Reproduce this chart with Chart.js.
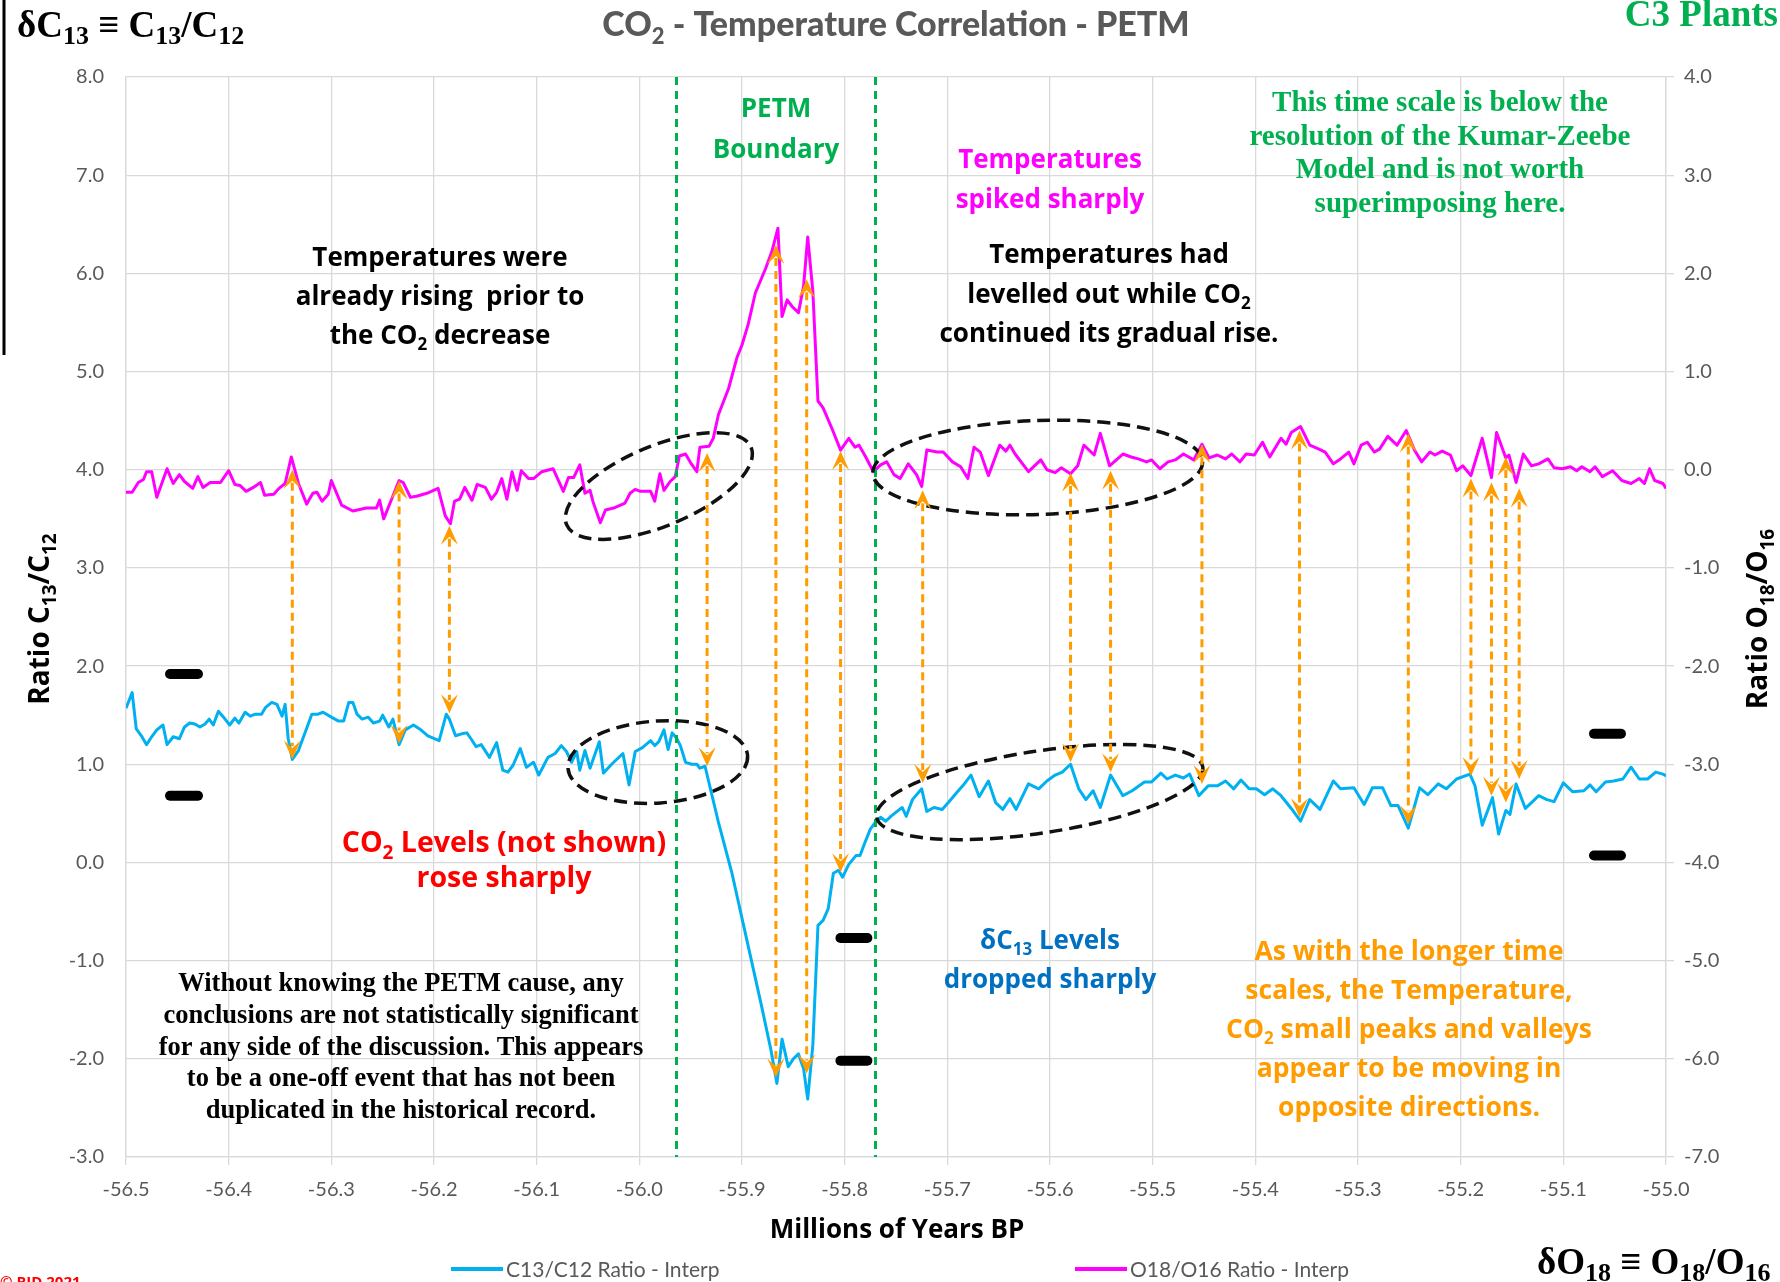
<!DOCTYPE html>
<html>
<head>
<meta charset="utf-8">
<script src="https://cdn.jsdelivr.net/npm/chart.js@4.4.1/dist/chart.umd.min.js"></script>
<style>
  html, body { margin: 0; padding: 0; background: #ffffff; overflow: hidden; }
  canvas { display: block; }
</style>
</head>
<body>
<canvas id="petm" width="1780" height="1282"></canvas>
<script>
// ---- Axis ranges (millions of years BP, C13/C12 ratio, O18/O16 ratio) ----
const xRange = [-56.5, -55.0];
const c13Range = [-3, 8];
const o18Range = [-7, 4];

// ---- O18/O16 ratio (right axis) ----
const o18Years = [
  -56.500,-56.494,-56.488,-56.483,-56.480,-56.475,-56.470,-56.460,-56.454,-56.448,
  -56.443,-56.435,-56.430,-56.425,-56.418,-56.408,-56.400,-56.394,-56.389,-56.383,
  -56.376,-56.369,-56.365,-56.356,-56.351,-56.345,-56.339,-56.332,-56.324,-56.318,
  -56.314,-56.309,-56.303,-56.300,-56.290,-56.279,-56.266,-56.256,-56.253,-56.249,
  -56.234,-56.230,-56.223,-56.217,-56.207,-56.196,-56.189,-56.184,-56.180,-56.175,
  -56.170,-56.163,-56.158,-56.150,-56.144,-56.139,-56.134,-56.129,-56.124,-56.119,
  -56.115,-56.108,-56.103,-56.095,-56.084,-56.074,-56.069,-56.064,-56.058,-56.053,
  -56.048,-56.045,-56.038,-56.033,-56.025,-56.014,-56.009,-56.004,
  -55.999,-55.989,-55.985,-55.980,-55.976,-55.970,-55.965,-55.961,-55.955,-55.950,
  -55.944,-55.941,-55.932,-55.928,-55.923,-55.913,-55.905,-55.900,-55.894,-55.887,
  -55.877,-55.871,-55.865,-55.861,-55.856,-55.851,-55.845,-55.840,-55.836,-55.831,
  -55.826,-55.821,-55.812,-55.804,-55.796,-55.790,-55.786,-55.780,-55.772,-55.765,
  -55.759,-55.752,-55.746,-55.738,-55.730,
  -55.725,-55.720,-55.710,-55.704,-55.695,-55.687,-55.680,-55.674,-55.668,-55.660,
  -55.649,-55.643,-55.639,-55.634,-55.621,-55.609,-55.603,-55.595,-55.589,-55.580,
  -55.573,-55.567,-55.557,-55.551,-55.542,-55.529,-55.521,-55.514,-55.506,-55.501,
  -55.493,-55.485,-55.478,-55.470,-55.460,-55.452,-55.445,-55.437,-55.429,-55.423,
  -55.415,-55.409,-55.401,-55.393,-55.386,-55.375,-55.370,-55.365,-55.356,-55.347,
  -55.338,-55.332,-55.324,-55.317,-55.309,-55.304,-55.297,-55.291,-55.284,-55.279,
  -55.271,-55.262,-55.253,-55.245,-55.238,-55.230,-55.225,-55.218,-55.210,-55.204,
  -55.198,-55.190,-55.179,-55.170,-55.165,-55.156,-55.153,-55.146,-55.139,-55.131,
  -55.124,-55.115,-55.109,-55.101,-55.093,-55.087,-55.082,-55.074,-55.069,-55.062,
  -55.052,-55.043,-55.034,-55.026,-55.021,-55.016,-55.011,-55.003,-55.000
];
const o18Ratio = [
  -0.23,-0.23,-0.13,-0.10,-0.02,-0.02,-0.28,0.01,-0.14,-0.05,
  -0.12,-0.19,-0.07,-0.18,-0.13,-0.13,-0.01,-0.15,-0.16,-0.22,
  -0.18,-0.13,-0.26,-0.25,-0.19,-0.14,0.13,-0.14,-0.35,-0.24,
  -0.23,-0.32,-0.25,-0.11,-0.36,-0.42,-0.39,-0.39,-0.31,-0.50,
  -0.11,-0.13,-0.28,-0.27,-0.24,-0.19,-0.47,-0.55,-0.32,-0.30,
  -0.18,-0.31,-0.15,-0.18,-0.30,-0.23,-0.09,-0.30,-0.02,-0.21,
  -0.01,-0.09,-0.09,-0.02,0.01,-0.22,-0.08,-0.08,0.05,-0.24,
  -0.21,-0.33,-0.54,-0.41,-0.39,-0.34,-0.24,-0.20,
  -0.22,-0.22,-0.32,-0.04,-0.21,-0.12,-0.07,0.14,0.16,0.07,
  -0.02,0.23,0.24,0.32,0.56,0.83,1.14,1.27,1.48,1.80,
  2.05,2.22,2.46,1.56,1.73,1.66,1.60,1.87,2.37,1.82,
  0.70,0.63,0.41,0.20,0.32,0.23,0.25,0.14,-0.02,0.05,
  0.08,-0.05,-0.09,0.06,-0.05,
  -0.17,0.20,0.18,0.18,0.08,0.03,-0.09,0.23,0.18,-0.06,
  0.25,0.19,0.25,0.16,-0.02,0.10,0.00,-0.03,0.02,-0.04,
  0.04,0.25,0.15,0.37,0.04,0.16,0.13,0.11,0.08,0.10,
  0.01,0.08,0.10,0.16,0.10,0.26,0.12,0.15,0.11,0.16,
  0.08,0.16,0.15,0.28,0.13,0.32,0.26,0.38,0.44,0.25,
  0.21,0.18,0.06,0.11,0.18,0.06,0.25,0.28,0.18,0.21,
  0.34,0.25,0.40,0.20,0.08,0.18,0.15,0.19,0.15,-0.01,
  0.04,-0.06,0.32,-0.08,0.38,0.12,0.15,-0.13,0.16,0.04,
  0.06,0.11,0.02,0.01,0.03,-0.01,0.03,-0.02,0.03,-0.07,
  -0.01,-0.11,-0.14,-0.09,-0.14,0.01,-0.11,-0.14,-0.19
];

// ---- C13/C12 ratio (left axis) ----
const c13Years = [
  -56.500,-56.494,-56.490,-56.485,-56.480,-56.475,-56.470,-56.464,-56.460,-56.454,
  -56.448,-56.443,-56.438,-56.433,-56.428,-56.423,-56.419,-56.415,-56.410,-56.405,
  -56.399,-56.394,-56.390,-56.384,-56.379,-56.374,-56.368,-56.364,-56.358,-56.353,
  -56.348,-56.345,-56.342,-56.338,-56.332,-56.326,-56.319,-56.313,-56.308,-56.300,
  -56.293,-56.288,-56.283,-56.279,-56.275,-56.270,-56.264,-56.259,-56.253,-56.250,
  -56.244,-56.240,-56.234,-56.228,-56.220,-56.214,-56.206,-56.195,-56.188,-56.185,
  -56.179,-56.173,-56.168,-56.164,-56.159,-56.154,-56.146,-56.139,-56.133,-56.128,
  -56.123,-56.116,-56.110,-56.103,-56.098,-56.094,-56.089,-56.082,-56.076,-56.071,
  -56.066,-56.061,-56.058,-56.053,-56.048,-56.039,-56.035,-56.027,-56.016,-56.010,
  -56.004,
  -55.997,-55.989,-55.985,-55.981,-55.976,-55.972,-55.968,-55.964,-55.960,-55.955,
  -55.949,-55.944,-55.941,-55.936,-55.923,-55.910,-55.894,-55.881,-55.872,-55.866,
  -55.861,-55.855,-55.850,-55.845,-55.840,-55.836,-55.831,-55.826,-55.821,-55.816,
  -55.811,-55.806,-55.802,-55.796,-55.789,-55.785,-55.780,-55.775,-55.770,-55.765,
  -55.760,-55.755,-55.749,-55.744,-55.740,-55.734,
  -55.725,-55.720,-55.713,-55.705,-55.699,-55.691,-55.685,-55.677,-55.669,-55.660,
  -55.653,-55.646,-55.639,-55.633,-55.621,-55.611,-55.603,-55.595,-55.588,-55.580,
  -55.572,-55.565,-55.558,-55.551,-55.541,-55.529,-55.520,-55.508,-55.501,-55.492,
  -55.486,-55.478,-55.470,-55.464,-55.455,-55.446,-55.437,-55.429,-55.421,-55.414,
  -55.406,-55.399,-55.391,-55.383,-55.375,-55.365,-55.356,-55.347,-55.337,-55.324,
  -55.317,-55.304,-55.294,-55.286,-55.276,-55.268,-55.261,-55.251,-55.240,-55.232,
  -55.222,-55.214,-55.204,-55.191,-55.186,-55.179,-55.169,-55.163,-55.156,-55.152,
  -55.146,-55.137,-55.131,-55.124,-55.116,-55.109,-55.100,-55.091,-55.080,-55.074,
  -55.068,-55.059,-55.051,-55.042,-55.034,-55.026,-55.018,-55.010,-55.003,-55.000
];
const c13Ratio = [
  1.57,1.73,1.36,1.29,1.20,1.28,1.35,1.40,1.20,1.28,
  1.26,1.38,1.42,1.41,1.38,1.41,1.46,1.40,1.54,1.48,
  1.40,1.47,1.42,1.53,1.49,1.51,1.51,1.58,1.63,1.61,
  1.49,1.61,1.26,1.05,1.14,1.31,1.51,1.51,1.53,1.48,
  1.44,1.44,1.63,1.63,1.51,1.46,1.48,1.42,1.44,1.50,
  1.38,1.46,1.20,1.35,1.40,1.36,1.29,1.24,1.51,1.46,
  1.29,1.31,1.32,1.26,1.18,1.20,1.07,1.22,0.94,0.92,
  0.99,1.16,0.97,1.02,0.89,0.97,1.07,1.11,1.19,1.13,
  1.02,1.13,0.94,1.14,0.96,1.23,0.91,1.00,1.11,0.79,
  1.13,
  1.17,1.24,1.19,1.23,1.35,1.15,1.32,1.27,1.19,1.02,
  1.00,1.00,0.96,0.98,0.41,-0.10,-0.85,-1.46,-1.90,-2.25,
  -1.80,-2.08,-2.00,-1.95,-2.10,-2.41,-1.86,-0.64,-0.59,-0.47,
  -0.11,-0.08,-0.15,-0.02,0.07,0.07,0.21,0.34,0.41,0.46,
  0.42,0.47,0.52,0.56,0.47,0.64,
  0.75,0.52,0.56,0.54,0.61,0.71,0.78,0.89,0.67,0.83,
  0.61,0.54,0.65,0.54,0.80,0.75,0.83,0.89,0.92,1.00,
  0.75,0.64,0.73,0.56,0.89,0.68,0.73,0.82,0.82,0.91,
  0.85,0.89,0.86,0.90,0.68,0.78,0.78,0.83,0.75,0.84,
  0.75,0.75,0.69,0.75,0.68,0.55,0.42,0.64,0.54,0.83,
  0.75,0.76,0.59,0.76,0.76,0.58,0.58,0.35,0.76,0.69,
  0.80,0.75,0.85,0.90,0.78,0.38,0.66,0.29,0.53,0.49,
  0.80,0.55,0.61,0.68,0.64,0.62,0.81,0.72,0.73,0.79,
  0.72,0.82,0.83,0.85,0.97,0.85,0.85,0.92,0.90,0.88
];

// ---- Paired peak/valley arrows: year, upper tip and lower tip (left-axis units) ----
const arrowYears  = [-56.338,-56.234,-56.185,-55.934,-55.867,-55.837,-55.804,-55.724,-55.580,-55.541,-55.452,-55.357,-55.251,-55.190,-55.170,-55.156,-55.143];
const arrowTop    = [4.00, 3.89, 3.43, 4.17, 6.29, 5.94, 4.19, 3.79, 3.97, 3.99, 4.26, 4.40, 4.37, 3.91, 3.87, 4.13, 3.81];
const arrowBottom = [1.05, 1.21, 1.52, 0.98, -2.19, -2.15, -0.10, 0.81, 1.02, 0.92, 0.80, 0.46, 0.39, 0.88, 0.68, 0.61, 0.85];

// ---- PETM boundary years ----
const boundaryYears = [-55.964, -55.770];

// ---- Range bars: start year, end year, level (left-axis units) ----
const barStart = [-56.462, -56.462, -55.809, -55.809, -55.075, -55.075];
const barEnd   = [-56.425, -56.425, -55.773, -55.773, -55.039, -55.039];
const barLevel = [1.92, 0.68, -0.77, -2.02, 1.31, 0.07];

// ---- Highlight ellipses (centre in data units, radii in px, tilt in degrees) ----
const ellipses = [
  { x: -55.981, y: 3.834, rx: 100, ry: 40, tilt: -22.7 },
  { x: -55.982, y: 1.023, rx: 90,  ry: 41, tilt: -4 },
  { x: -55.612, y: 4.023, rx: 165, ry: 47, tilt: -2 },
  { x: -55.610, y: 0.717, rx: 165, ry: 41, tilt: -8.7 }
];

// ---- Colours ----
const C13_COLOR = '#00B0F0';
const O18_COLOR = '#FF00FF';
const ORANGE = '#FF9C00';
const GREEN = '#00B050';
const GRID = '#D9D9D9';
const TICK = '#595959';

const SANS = "'Open Sans', 'DejaVu Sans', sans-serif";
const SERIF = "'Liberation Serif', 'DejaVu Serif', serif";
const CAL = "Lato, 'Open Sans', sans-serif";

// Draw a line of text where _{..} marks a subscript run.
function richText(ctx, str, x, y, opt) {
  const size = opt.size, fam = opt.family, weight = opt.weight || 'bold';
  const subScale = opt.subScale || 0.66;
  const parts = [];
  const re = /_\{([^}]*)\}/g;
  let last = 0, m;
  while ((m = re.exec(str))) {
    if (m.index > last) parts.push({ t: str.slice(last, m.index), sub: false });
    parts.push({ t: m[1], sub: true });
    last = re.lastIndex;
  }
  if (last < str.length) parts.push({ t: str.slice(last), sub: false });
  const mainFont = `${weight} ${size}px ${fam}`;
  const subFont = `${weight} ${Math.round(size * subScale)}px ${fam}`;
  let w = 0;
  parts.forEach(p => { ctx.font = p.sub ? subFont : mainFont; p.w = ctx.measureText(p.t).width; w += p.w; });
  let cx = opt.align === 'left' ? x : opt.align === 'right' ? x - w : x - w / 2;
  ctx.fillStyle = opt.color;
  ctx.textBaseline = 'alphabetic';
  ctx.textAlign = 'left';
  parts.forEach(p => {
    ctx.font = p.sub ? subFont : mainFont;
    ctx.fillText(p.t, cx, y + (p.sub ? size * (opt.subDrop || 0.24) : 0));
    cx += p.w;
  });
}

// Annotation text blocks (centre x, first baseline, line step)
const textBlocks = [
  { lines: ['Temperatures were', 'already rising  prior to', 'the CO_{2} decrease'], x: 440, y: 266, step: 39, size: 26, family: SANS, color: '#000000' },
  { lines: ['PETM', 'Boundary'], x: 776, y: 117, step: 41, size: 26, family: SANS, color: GREEN },
  { lines: ['Temperatures', 'spiked sharply'], x: 1050, y: 168, step: 40, size: 26, family: SANS, color: O18_COLOR },
  { lines: ['Temperatures had', 'levelled out while CO_{2}', 'continued its gradual rise.'], x: 1109, y: 263, step: 39.5, size: 26, family: SANS, color: '#000000' },
  { lines: ['This time scale is below the', 'resolution of the Kumar-Zeebe', 'Model and is not worth', 'superimposing here.'], x: 1440, y: 111, step: 33.7, size: 29, family: SERIF, color: GREEN },
  { lines: ['CO_{2} Levels (not shown)', 'rose sharply'], x: 504, y: 852, step: 35, size: 28.5, family: SANS, color: '#FF0000' },
  { lines: ['\u03b4C_{13} Levels', 'dropped sharply'], x: 1050, y: 949, step: 39, size: 26, family: SANS, color: '#0070C0' },
  { lines: ['As with the longer time', 'scales, the Temperature,', 'CO_{2} small peaks and valleys', 'appear to be moving in', 'opposite directions.'], x: 1409, y: 960, step: 39, size: 26.5, family: SANS, color: ORANGE },
  { lines: ['Without knowing the PETM cause, any', 'conclusions are not statistically significant', 'for any side of the discussion. This appears', 'to be a one-off event that has not been', 'duplicated in the historical record.'], x: 401, y: 991, step: 31.8, size: 26.5, family: SERIF, color: '#000000' }
];

function arrowHead(ctx, x, y, dir) {
  // dir = -1 points up (tip on top), +1 points down
  const L = 19, W = 8.5, N = 11;
  ctx.beginPath();
  ctx.moveTo(x, y);
  ctx.lineTo(x - W, y - dir * L);
  ctx.lineTo(x, y - dir * N);
  ctx.lineTo(x + W, y - dir * L);
  ctx.closePath();
  ctx.fill();
}

const annotationPlugin = {
  id: 'petmAnnotations',
  afterDatasetsDraw(chart) {
    const ctx = chart.ctx;
    const xs = chart.scales.x, ys = chart.scales.y;
    const area = chart.chartArea;
    ctx.save();

    // PETM boundary lines
    ctx.strokeStyle = GREEN;
    ctx.lineWidth = 3;
    ctx.setLineDash([8, 6]);
    boundaryYears.forEach(yr => {
      const px = Math.round(xs.getPixelForValue(yr)) + 0.5;
      ctx.beginPath();
      ctx.moveTo(px, area.top);
      ctx.lineTo(px, area.bottom);
      ctx.stroke();
    });

    // highlight ellipses
    ctx.strokeStyle = '#111111';
    ctx.lineWidth = 3.5;
    ctx.setLineDash([13, 7]);
    ellipses.forEach(e => {
      ctx.beginPath();
      ctx.ellipse(xs.getPixelForValue(e.x), ys.getPixelForValue(e.y), e.rx, e.ry, e.tilt * Math.PI / 180, 0, Math.PI * 2);
      ctx.stroke();
    });

    // peak / valley arrows
    ctx.strokeStyle = ORANGE;
    ctx.fillStyle = ORANGE;
    ctx.lineWidth = 3;
    arrowYears.forEach((yr, i) => {
      const px = xs.getPixelForValue(yr);
      const top = ys.getPixelForValue(arrowTop[i]);
      const bot = ys.getPixelForValue(arrowBottom[i]);
      ctx.setLineDash([8, 5]);
      ctx.beginPath();
      ctx.moveTo(px, top + 13);
      ctx.lineTo(px, bot - 13);
      ctx.stroke();
      ctx.setLineDash([]);
      arrowHead(ctx, px, top, -1);
      arrowHead(ctx, px, bot, 1);
    });

    // range bars
    ctx.setLineDash([]);
    ctx.strokeStyle = '#000000';
    ctx.lineWidth = 10;
    ctx.lineCap = 'round';
    barLevel.forEach((lv, i) => {
      const py = ys.getPixelForValue(lv);
      ctx.beginPath();
      ctx.moveTo(xs.getPixelForValue(barStart[i]) + 5, py);
      ctx.lineTo(xs.getPixelForValue(barEnd[i]) - 5, py);
      ctx.stroke();
    });
    ctx.restore();
  },
  afterDraw(chart) {
    const ctx = chart.ctx;
    ctx.save();

    // title
    richText(ctx, 'CO_{2} - Temperature Correlation - PETM', 896, 36, { size: 34, family: CAL, color: TICK, weight: '900' });

    // corner notes
    richText(ctx, '\u03b4C_{13} \u2261 C_{13}/C_{12}', 17, 37, { size: 37, family: SERIF, color: '#000000', align: 'left', subScale: 0.7, subDrop: 0.2 });
    richText(ctx, 'C3 Plants', 1778, 26, { size: 37, family: SERIF, color: GREEN, align: 'right' });
    richText(ctx, '\u03b4O_{18} \u2261 O_{18}/O_{16}', 1537, 1274, { size: 37, family: SERIF, color: '#000000', align: 'left', subScale: 0.7, subDrop: 0.2 });
    ctx.font = 'bold 15px ' + SANS;
    ctx.fillStyle = '#FF0000';
    ctx.textBaseline = 'top';
    ctx.fillText('\u00a9 RJD 2021', 0, 1275);

    // frame line on the left edge
    ctx.strokeStyle = '#000000';
    ctx.lineWidth = 3;
    ctx.beginPath();
    ctx.moveTo(4, 0);
    ctx.lineTo(4, 355);
    ctx.stroke();

    // axis titles
    richText(ctx, 'Millions of Years BP', 897, 1238, { size: 26, family: SANS, color: '#000000' });
    ctx.save();
    ctx.translate(49, 619);
    ctx.rotate(-Math.PI / 2);
    richText(ctx, 'Ratio C_{13}/C_{12}', 0, 0, { size: 28, family: SANS, color: '#000000', subScale: 0.68 });
    ctx.restore();
    ctx.save();
    ctx.translate(1767, 619);
    ctx.rotate(-Math.PI / 2);
    richText(ctx, 'Ratio O_{18}/O_{16}', 0, 0, { size: 28, family: SANS, color: '#000000', subScale: 0.68 });
    ctx.restore();

    // legend
    const legendPos = [[451, 1269], [1075, 1269]];
    chart.data.datasets.forEach((ds, i) => {
      const [lx, ly] = legendPos[i];
      ctx.strokeStyle = ds.borderColor;
      ctx.lineWidth = 4;
      ctx.beginPath();
      ctx.moveTo(lx, ly);
      ctx.lineTo(lx + 52, ly);
      ctx.stroke();
      ctx.font = '21px ' + CAL;
      ctx.fillStyle = TICK;
      ctx.textBaseline = 'middle';
      ctx.textAlign = 'left';
      ctx.fillText(ds.label, lx + 55, ly + 1);
    });

    // annotation blocks
    textBlocks.forEach(b => {
      b.lines.forEach((ln, k) => {
        richText(ctx, ln, b.x, b.y + k * b.step, { size: b.size, family: b.family, color: b.color });
      });
    });
    ctx.restore();
  }
};

const tickFont = { family: CAL, size: 20 };

new Chart(document.getElementById('petm'), {
  type: 'line',
  data: {
    datasets: [
      {
        label: 'C13/C12 Ratio - Interp',
        data: c13Years.map((x, i) => ({ x, y: c13Ratio[i] })),
        borderColor: C13_COLOR,
        borderWidth: 3,
        yAxisID: 'y'
      },
      {
        label: 'O18/O16 Ratio - Interp',
        data: o18Years.map((x, i) => ({ x, y: o18Ratio[i] })),
        borderColor: O18_COLOR,
        borderWidth: 3,
        yAxisID: 'y1'
      }
    ]
  },
  options: {
    responsive: false,
    animation: false,
    devicePixelRatio: 1,
    elements: { point: { radius: 0 }, line: { tension: 0, borderJoinStyle: 'round' } },
    layout: { padding: { top: 77, left: 0, right: 0, bottom: 0 } },
    plugins: { legend: { display: false }, title: { display: false }, tooltip: { enabled: false } },
    scales: {
      x: {
        type: 'linear',
        min: xRange[0],
        max: xRange[1],
        ticks: { stepSize: 0.1, autoSkip: false, maxRotation: 0, color: TICK, font: tickFont, padding: 13,
                 callback: v => Number(v).toFixed(1) },
        grid: { color: GRID, lineWidth: 1.3, tickLength: 8 },
        border: { color: GRID, width: 1.3 },
        afterFit: s => { s.height = 125; }
      },
      y: {
        position: 'left',
        min: c13Range[0],
        max: c13Range[1],
        ticks: { stepSize: 1, color: TICK, font: tickFont, padding: 22, callback: v => Number(v).toFixed(1) },
        grid: { color: GRID, lineWidth: 1.3, drawTicks: false },
        border: { color: GRID, width: 1.3 },
        afterFit: s => { s.width = 126; }
      },
      y1: {
        position: 'right',
        min: o18Range[0],
        max: o18Range[1],
        ticks: { stepSize: 1, color: TICK, font: tickFont, padding: 10, callback: v => Number(v).toFixed(1) },
        grid: { color: GRID, lineWidth: 1.3, drawOnChartArea: false, tickLength: 8 },
        border: { color: GRID, width: 1.3 },
        afterFit: s => { s.width = 114; }
      }
    }
  },
  plugins: [annotationPlugin]
});
</script>
</body>
</html>
